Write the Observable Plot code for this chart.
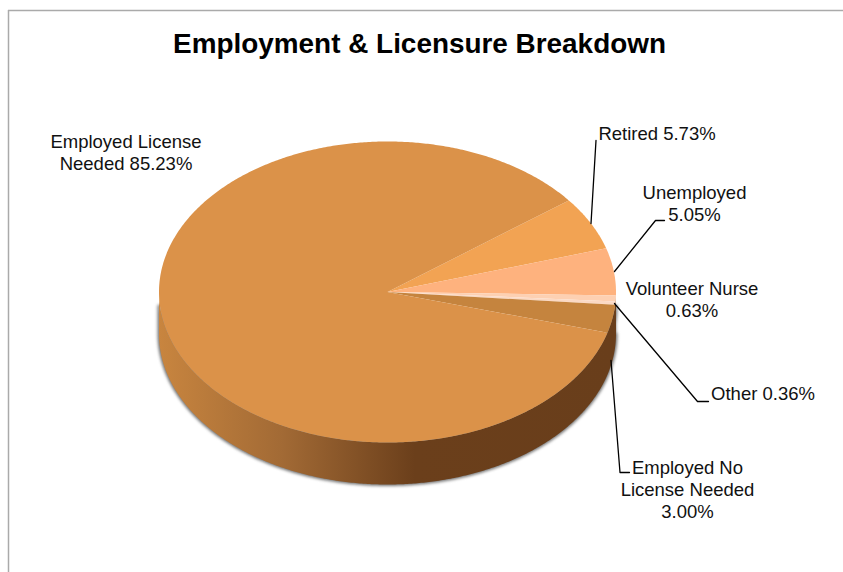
<!DOCTYPE html>
<html>
<head>
<meta charset="utf-8">
<script src="https://cdn.jsdelivr.net/npm/d3@7"></script>
<script src="https://cdn.jsdelivr.net/npm/@observablehq/plot@0.6"></script>
<style>
html,body{margin:0;padding:0;background:#fff;overflow:hidden}
svg{display:block}
</style>
</head>
<body>
<div id="chart"></div>
<script>
const categories = ["Retired","Unemployed","Volunteer Nurse","Other","Employed No License Needed","Employed License Needed"];
const shares = [5.73,5.05,0.63,0.36,3.00,85.23];
const sliceColors = ["#f2a353","#feb27e","#fdd0b2","#fbd9c4","#c5843e","#db9249"];
const labelLines = ["Retired 5.73%","Unemployed\n5.05%","Volunteer Nurse\n0.63%","Other 0.36%","Employed No\nLicense Needed\n3.00%","Employed License\nNeeded 85.23%"];
const labelX = [656.5,694,691.5,762.5,687,125.5];
const labelY = [132.5,202,298.5,392.5,488.5,151];
const leaders = [
  [[590.5,223],[595.5,140]],
  [[614,271],[655,220],[664,220]],
  [[614,303],[697,401],[708,401]],
  [[610.5,360],[619.5,472],[629,472]]
];
const titleText = "Employment & Licensure Breakdown";

const W = 843, H = 572;
const cx = 387, cy = 291.5, rx = 228.5, ry = 150.5, depth = 42;
const startDeg = 52.5;
const step = Math.PI / 180;

const pt = (a, off = 0) => ({x: cx + rx * Math.sin(a), y: cy - ry * Math.cos(a) + off});
const arcs = d3.pie().sort(null).value(d => d).startAngle(startDeg * step).endAngle(startDeg * step + 2 * Math.PI)(shares);

const slicePts = arcs.flatMap((s, i) => {
  const out = [{x: cx, y: cy, k: categories[i]}];
  for (const a of [...d3.range(s.startAngle, s.endAngle, step / 2), s.endAngle]) out.push({...pt(a), k: categories[i]});
  out.push({x: cx, y: cy, k: categories[i]});
  return out;
});
const colorOf = new Map(categories.map((c, i) => [c, sliceColors[i]]));

const lower = [...d3.range(Math.PI / 2, 3 * Math.PI / 2, step / 2), 3 * Math.PI / 2];
const wallPts = [...lower.map(a => pt(a, 0)), ...lower.slice().reverse().map(a => pt(a, depth))];
const shadowPts = wallPts.map(d => ({x: d.x, y: d.y + (d.y < cy + 20 ? 14 : 0)}));

const defs = () => {
  const g = d3.create("svg:g");
  const lg = g.append("defs").append("linearGradient").attr("id", "wall").attr("x1", 0).attr("x2", 1).attr("y1", 0).attr("y2", 0);
  for (const [o, c] of [[0,"#c8853f"],[0.27,"#a26a35"],[0.56,"#6b3f1b"],[1,"#693e1b"]])
    lg.append("stop").attr("offset", o).attr("stop-color", c);
  return g.node();
};

const font = "Liberation Sans, Arial, sans-serif";
const labelData = labelLines.map((t, i) => ({t, x: labelX[i], y: labelY[i]}));

const chart = Plot.plot({
  width: W, height: H,
  marginTop: 0, marginRight: 0, marginBottom: 0, marginLeft: 0,
  x: {domain: [0, W], range: [0, W], axis: null},
  y: {domain: [0, H], range: [0, H], axis: null},
  style: {background: "#fff", fontFamily: font},
  marks: [
    defs,
    Plot.ruleY([10], {x1: 8, x2: W, stroke: "#aaa", strokeWidth: 1.5}),
    Plot.ruleX([8], {y1: 10, y2: H, stroke: "#aaa", strokeWidth: 1.5}),
    Plot.line(shadowPts, {x: "x", y: "y", fill: "#555", stroke: "#777", strokeWidth: 3, fillOpacity: 0.9, imageFilter: "blur(1.5px)"}),
    Plot.line(wallPts, {x: "x", y: "y", fill: "url(#wall)", stroke: "none"}),
    Plot.line(slicePts, {x: "x", y: "y", z: "k", fill: d => colorOf.get(d.k), stroke: "none"}),
    ...leaders.map(l => Plot.line(l, {x: d => d[0], y: d => d[1], stroke: "#000", strokeWidth: 1.3})),
    Plot.text(labelData, {x: "x", y: "y", text: "t", fontSize: 18.5, lineHeight: 1.19, fill: "#111", textAnchor: "middle", fontFamily: font}),
    Plot.text([titleText], {x: 419, y: 44, text: d => d, fontSize: 27.9, fontWeight: "bold", fill: "#000", fontFamily: font})
  ]
});
document.getElementById("chart").append(chart);
</script>
</body>
</html>
